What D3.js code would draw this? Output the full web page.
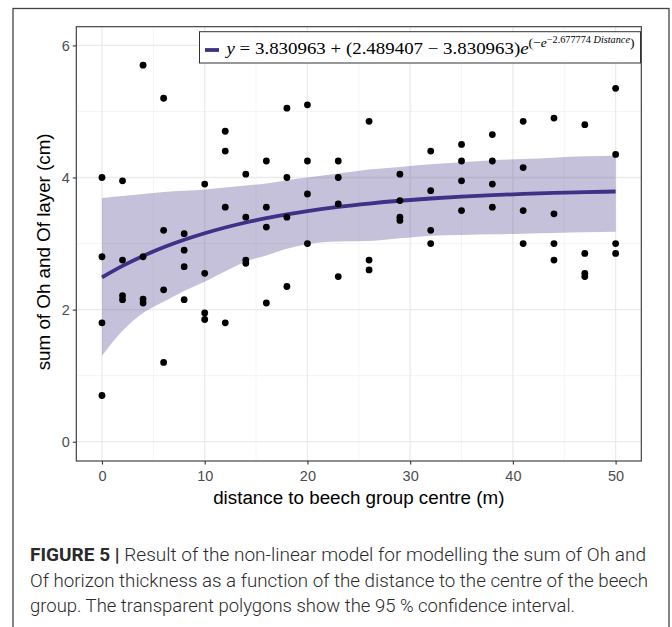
<!DOCTYPE html>
<html><head><meta charset="utf-8">
<script src="https://cdn.jsdelivr.net/npm/d3@7"></script>
<style>body{margin:0;background:#fff}svg{display:block}</style>
</head><body>
<script>
// ---- data ----
const distances = [0,2,4,6,8,10,12,14,16,18,20,23,26,29,32,35,38,41,44,47,50];
const pointDist = [
  0,0,0,0, 2,2,2,2, 4,4,4,4, 6,6,6,6, 8,8,8,8, 10,10,10,10, 12,12,12,12,
  14,14,14,14, 16,16,16,16, 18,18,18,18, 20,20,20,20, 23,23,23,23, 26,26,26,
  29,29,29,29, 32,32,32,32, 35,35,35,35, 38,38,38,38, 41,41,41,41, 44,44,44,44,
  47,47,47,47, 50,50,50,50];
const pointValue = [
  4.00,2.80,1.80,0.70, 3.95,2.75,2.21,2.15, 5.70,2.80,2.16,2.10, 5.20,3.20,2.30,1.20,
  3.15,2.90,2.65,2.15, 3.90,2.55,1.95,1.85, 4.70,4.40,3.55,1.80, 4.05,3.40,2.75,2.70,
  4.25,3.55,3.25,2.10, 5.05,4.00,3.40,2.35, 5.10,4.25,3.75,3.00, 4.25,4.00,3.60,2.50,
  4.85,2.75,2.60, 4.05,3.65,3.40,3.35, 4.40,3.80,3.20,3.00, 4.50,4.25,3.95,3.50,
  4.65,4.25,3.90,3.55, 4.85,4.15,3.50,3.00, 4.90,3.45,3.00,2.75, 4.80,2.85,2.55,2.50,
  5.35,4.35,3.00,2.85];
const fitted = [2.489,2.662,2.812,2.943,3.057,3.156,3.243,3.319,3.384,3.442,3.492,
  3.555,3.606,3.648,3.682,3.710,3.733,3.751,3.766,3.778,3.788];
const upper = [3.69,3.72,3.75,3.78,3.80,3.82,3.85,3.88,3.91,3.96,4.00,
  4.06,4.12,4.16,4.20,4.23,4.26,4.28,4.30,4.32,4.33];
const lower = [1.30,1.68,1.95,2.12,2.28,2.42,2.58,2.73,2.82,2.92,2.99,
  3.03,3.04,3.08,3.12,3.13,3.14,3.15,3.16,3.17,3.18];
const xTicks = [0,10,20,30,40,50];
const yTicks = [0,2,4,6];
const xMinor = [5,15,25,35,45];
const yMinor = [1,3,5];
const xTitle = "distance to beech group centre (m)";
const yTitle = "sum of Oh and Of layer (cm)";
const captionBold = "FIGURE 5 |";
const captionLines = [
  " Result of the non-linear model for modelling the sum of Oh and",
  "Of horizon thickness as a function of the distance to the centre of the beech",
  "group. The transparent polygons show the 95 % confidence interval."
];

// ---- layout ----
const W = 672, H = 627;
const P = {l:76.3, r:641.3, t:26.7, b:461};
const purple = "#3f3185";
const svg = d3.select("body").append("svg").attr("width",W).attr("height",H);

// outer frame
svg.append("rect").attr("x",13).attr("y",8.5).attr("width",656).attr("height",640)
  .attr("fill","none").attr("stroke","#444").attr("stroke-width",1.3);

const x = d3.scaleLinear().domain([-2.5,52.5]).range([P.l,P.r]);
const y = d3.scaleLinear().domain([-0.292,6.283]).range([P.b,P.t]);

const g = svg.append("g");
// grid
g.selectAll(".xm").data(xMinor).join("line").attr("x1",d=>x(d)).attr("x2",d=>x(d))
  .attr("y1",P.t).attr("y2",P.b).attr("stroke","#f2f2f2").attr("stroke-width",0.8);
g.selectAll(".ym").data(yMinor).join("line").attr("y1",d=>y(d)).attr("y2",d=>y(d))
  .attr("x1",P.l).attr("x2",P.r).attr("stroke","#f2f2f2").attr("stroke-width",0.8);
g.selectAll(".xg").data(xTicks).join("line").attr("x1",d=>x(d)).attr("x2",d=>x(d))
  .attr("y1",P.t).attr("y2",P.b).attr("stroke","#ebebeb").attr("stroke-width",1.3);
g.selectAll(".yg").data(yTicks).join("line").attr("y1",d=>y(d)).attr("y2",d=>y(d))
  .attr("x1",P.l).attr("x2",P.r).attr("stroke","#ebebeb").attr("stroke-width",1.3);

// band
const band = distances.map((d,i)=>({d, lo:lower[i], hi:upper[i], f:fitted[i]}));
g.append("path").datum(band)
  .attr("d", d3.area().x(d=>x(d.d)).y0(d=>y(d.lo)).y1(d=>y(d.hi)).curve(d3.curveMonotoneX))
  .attr("fill", purple).attr("fill-opacity",0.3);
g.append("path").datum(band)
  .attr("d", d3.line().x(d=>x(d.d)).y(d=>y(d.f)).curve(d3.curveMonotoneX))
  .attr("fill","none").attr("stroke",purple).attr("stroke-width",3.8);

// points
g.selectAll("circle").data(pointDist.map((d,i)=>[d,pointValue[i]])).join("circle")
  .attr("cx",d=>x(d[0])).attr("cy",d=>y(d[1])).attr("r",3.4).attr("fill","#000");

// panel border
svg.append("rect").attr("x",P.l).attr("y",P.t).attr("width",P.r-P.l).attr("height",P.b-P.t)
  .attr("fill","none").attr("stroke","#333").attr("stroke-width",1.1);

// axes
const xa = svg.append("g").attr("transform",`translate(0,${P.b})`)
  .call(d3.axisBottom(x).tickValues(xTicks).tickSize(3.5).tickPadding(3).tickFormat(d3.format("d")));
const ya = svg.append("g").attr("transform",`translate(${P.l},0)`)
  .call(d3.axisLeft(y).tickValues(yTicks).tickSize(3.5).tickPadding(3).tickFormat(d3.format("d")));
[xa,ya].forEach(a=>{
  a.select(".domain").remove();
  a.selectAll("line").attr("stroke","#333").attr("stroke-width",1.1);
  a.selectAll("text").attr("fill","#4d4d4d").attr("font-family","Liberation Sans, Arial, sans-serif").attr("font-size",14.5);
});
xa.selectAll("text").attr("dy","0.9em");

svg.append("text").attr("x",(P.l+P.r)/2).attr("y",504).attr("text-anchor","middle")
  .attr("font-family","Liberation Sans, Arial, sans-serif").attr("font-size",18.8).attr("fill","#000").text(xTitle);
svg.append("text").attr("transform",`translate(50,${(P.t+P.b)/2 + 8}) rotate(-90)`).attr("text-anchor","middle")
  .attr("font-family","Liberation Sans, Arial, sans-serif").attr("font-size",18.8).attr("fill","#000").text(yTitle);

// legend
const lg = svg.append("g");
lg.append("rect").attr("x",199.5).attr("y",31.7).attr("width",441).attr("height",31.3)
  .attr("fill","#fff").attr("stroke","#333").attr("stroke-width",1);
lg.append("line").attr("x1",205).attr("x2",219).attr("y1",50).attr("y2",50)
  .attr("stroke",purple).attr("stroke-width",3.8);
const lt = lg.append("text").attr("x",226.5).attr("y",54)
  .attr("font-family","Liberation Serif, DejaVu Serif, serif").attr("font-size",17.5).attr("fill","#000")
  .attr("textLength",408).attr("lengthAdjust","spacingAndGlyphs");
lt.append("tspan").attr("font-style","italic").text("y");
lt.append("tspan").text(" = 3.830963 + (2.489407 − 3.830963)");
lt.append("tspan").attr("font-style","italic").text("e");
lt.append("tspan").attr("dy",-7).attr("font-size",12.5).text("(−");
lt.append("tspan").attr("font-size",12.5).attr("font-style","italic").text("e");
lt.append("tspan").attr("dy",-4).attr("font-size",9.5).text("−2.677774 ");
lt.append("tspan").attr("font-size",9.5).attr("font-style","italic").text("Distance");
lt.append("tspan").attr("dy",4).attr("font-size",12.5).text(")");

// caption
const cf = "Roboto, Liberation Sans, Arial, sans-serif";
const c1 = svg.append("text").attr("x",30).attr("y",561).attr("font-family",cf).attr("font-size",17.5).attr("fill","#2a2a2a")
  .attr("textLength",616).attr("lengthAdjust","spacingAndGlyphs");
c1.append("tspan").attr("font-weight","bold").text(captionBold);
c1.append("tspan").attr("font-weight",300).text(captionLines[0]);
svg.append("text").attr("x",30).attr("y",587).attr("font-family",cf).attr("font-size",17.5).attr("fill","#2a2a2a").attr("font-weight",300)
  .attr("textLength",618).attr("lengthAdjust","spacingAndGlyphs").text(captionLines[1]);
svg.append("text").attr("x",30).attr("y",612).attr("font-family",cf).attr("font-size",17.5).attr("fill","#2a2a2a").attr("font-weight",300)
  .attr("textLength",545).attr("lengthAdjust","spacingAndGlyphs").text(captionLines[2]);
</script>
</body></html>
